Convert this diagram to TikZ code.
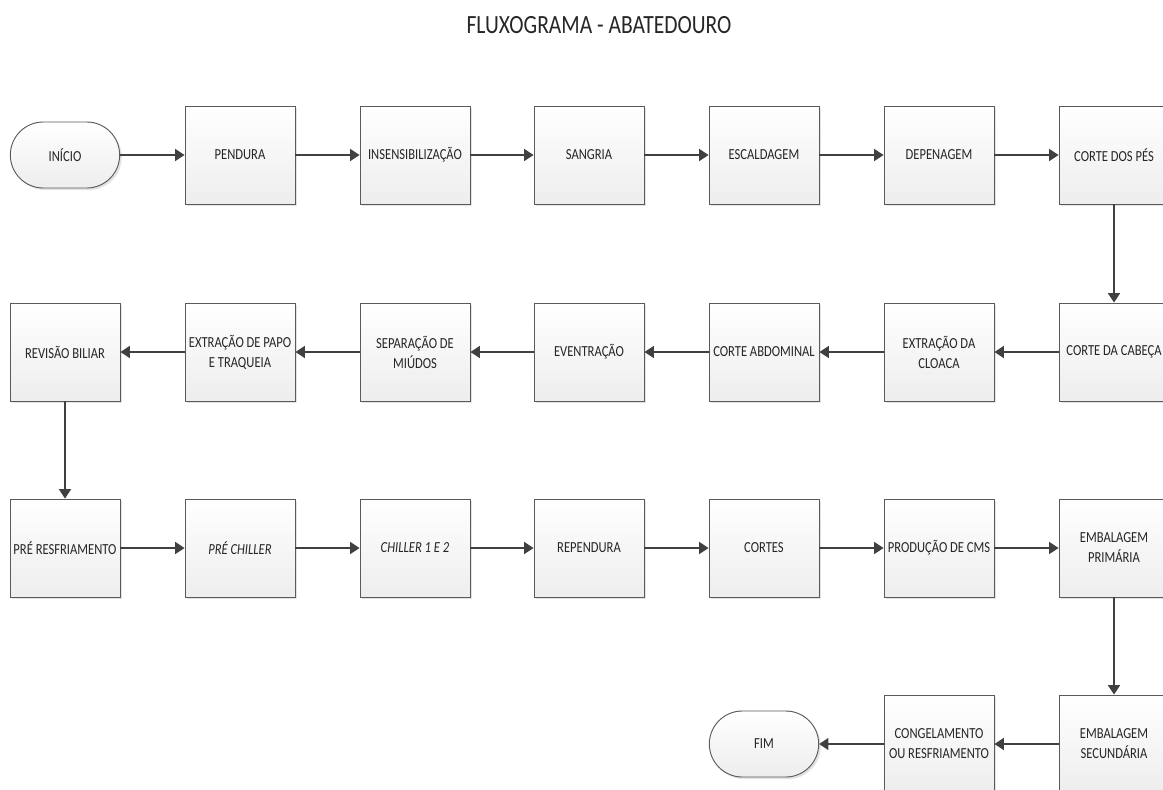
\documentclass[tikz,border=0pt]{standalone}
\usepackage{fontspec}
\setmainfont{Carlito}[FakeStretch=0.82]
\usetikzlibrary{arrows.meta,shadows,positioning}
\definecolor{lineclr}{HTML}{404040}
\definecolor{boxborder}{HTML}{5A5A5A}
\definecolor{txt}{HTML}{262626}
\begin{document}
\begin{tikzpicture}[x=0.75pt,y=-0.75pt,
  proc/.style={draw=boxborder, line width=0.7pt, top color=white, bottom color=gray!14,
    minimum width=82.5pt, minimum height=73.5pt, inner sep=1pt, align=center,
    text=txt, font=\fontsize{11.5}{15}\selectfont,
    drop shadow={opacity=0.22, shadow xshift=1.6pt, shadow yshift=-1.6pt}},
  term/.style={draw=boxborder, line width=0.7pt, top color=white, bottom color=gray!14,
    minimum width=82pt, minimum height=49.5pt, rounded corners=24.7pt, align=center,
    text=txt, font=\fontsize{11.5}{15}\selectfont,
    drop shadow={opacity=0.22, shadow xshift=1.6pt, shadow yshift=-1.6pt}},
  flow/.style={draw=lineclr, line width=1pt, -{Triangle[length=7pt,width=9pt]}}
]
\useasboundingbox (0,0) rectangle (1163,789);
\begin{scope}
\clip (0,0) rectangle (1163,789);
\node[text=txt, font=\fontsize{19.7}{24}\selectfont] (title) at (599,25) {FLUXOGRAMA - ABATEDOURO};
% row 1
\node[term] (ini) at (65,155) {INÍCIO};
\node[proc] (pend) at (240,155) {PENDURA};
\node[proc] (ins) at (415,155) {INSENSIBILIZAÇÃO};
\node[proc] (sang) at (589,155) {SANGRIA};
\node[proc] (esc) at (764,155) {ESCALDAGEM};
\node[proc] (dep) at (939,155) {DEPENAGEM};
\node[proc] (cpes) at (1114,155) {CORTE DOS PÉS};
% row 2
\node[proc] (ccab) at (1114,352) {CORTE DA CABEÇA};
\node[proc] (clo) at (939,352) {EXTRAÇÃO DA\\CLOACA};
\node[proc] (cabd) at (764,352) {CORTE ABDOMINAL};
\node[proc] (event) at (589,352) {EVENTRAÇÃO};
\node[proc] (sep) at (415,352) {SEPARAÇÃO DE\\MIÚDOS};
\node[proc] (papo) at (240,352) {EXTRAÇÃO DE PAPO\\E TRAQUEIA};
\node[proc] (rev) at (65,352) {REVISÃO BILIAR};
% row 3
\node[proc] (pres) at (65,548) {PRÉ RESFRIAMENTO};
\node[proc] (pchil) at (240,548) {\itshape PRÉ CHILLER};
\node[proc] (chil) at (415,548) {\itshape CHILLER 1 E 2};
\node[proc] (rep) at (589,548) {REPENDURA};
\node[proc] (cortes) at (764,548) {CORTES};
\node[proc] (cms) at (939,548) {PRODUÇÃO DE CMS};
\node[proc] (emb1) at (1114,548) {EMBALAGEM\\PRIMÁRIA};
% row 4
\node[proc] (emb2) at (1114,744) {EMBALAGEM\\SECUNDÁRIA};
\node[proc] (cong) at (939,744) {CONGELAMENTO\\OU RESFRIAMENTO};
\node[term] (fim) at (764,744) {FIM};
% connectors
\draw[flow] (ini) -- (pend);
\draw[flow] (pend) -- (ins);
\draw[flow] (ins) -- (sang);
\draw[flow] (sang) -- (esc);
\draw[flow] (esc) -- (dep);
\draw[flow] (dep) -- (cpes);
\draw[flow] (cpes) -- (ccab);
\draw[flow] (ccab) -- (clo);
\draw[flow] (clo) -- (cabd);
\draw[flow] (cabd) -- (event);
\draw[flow] (event) -- (sep);
\draw[flow] (sep) -- (papo);
\draw[flow] (papo) -- (rev);
\draw[flow] (rev) -- (pres);
\draw[flow] (pres) -- (pchil);
\draw[flow] (pchil) -- (chil);
\draw[flow] (chil) -- (rep);
\draw[flow] (rep) -- (cortes);
\draw[flow] (cortes) -- (cms);
\draw[flow] (cms) -- (emb1);
\draw[flow] (emb1) -- (emb2);
\draw[flow] (emb2) -- (cong);
\draw[flow] (cong) -- (fim);
\end{scope}
\end{tikzpicture}
\end{document}
